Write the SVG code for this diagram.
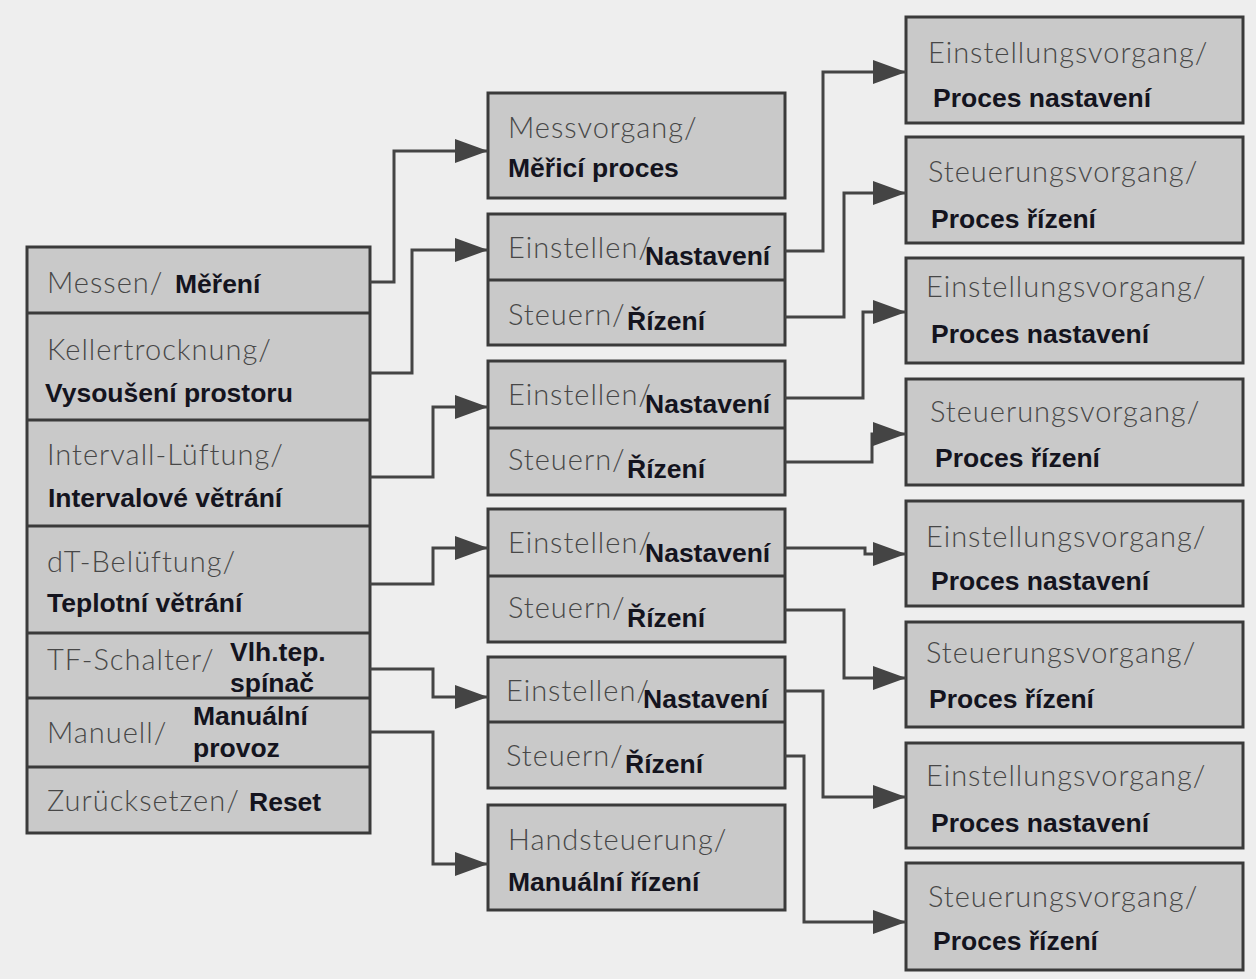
<svg xmlns="http://www.w3.org/2000/svg" width="1256" height="979" viewBox="0 0 1256 979">
<style>
.bg{fill:#eeeeee}
.box{fill:#c9c9c9;stroke:#3a3a3a;stroke-width:3}
.div{stroke:#3a3a3a;stroke-width:3}
.de{font-family:Lato,"Open Sans","DejaVu Sans",sans-serif;font-weight:300;font-size:29px;letter-spacing:1px;fill:#474747}
.cz{font-family:"Liberation Sans",Arial,sans-serif;font-weight:bold;font-size:26.5px;fill:#14141e}
.con{fill:none;stroke:#444444;stroke-width:3}
</style>
<defs>
<marker id="arr" markerUnits="userSpaceOnUse" markerWidth="34" markerHeight="24" refX="33" refY="12" orient="auto">
<path d="M0,0 L33,12 L0,24 Z" fill="#444444"/>
</marker>
</defs>
<rect class="bg" x="0" y="0" width="1256" height="979"/>

<g id="left-menu">
<rect class="box" x="27" y="247" width="343" height="586"/>
<line class="div" x1="27" y1="313" x2="370" y2="313"/>
<line class="div" x1="27" y1="420" x2="370" y2="420"/>
<line class="div" x1="27" y1="526" x2="370" y2="526"/>
<line class="div" x1="27" y1="633" x2="370" y2="633"/>
<line class="div" x1="27" y1="698" x2="370" y2="698"/>
<line class="div" x1="27" y1="767" x2="370" y2="767"/>
<text class="de" x="47" y="293">Messen/</text>
<text class="cz" x="175" y="293">Měření</text>
<text class="de" x="47" y="360">Kellertrocknung/</text>
<text class="cz" x="45" y="402">Vysoušení prostoru</text>
<text class="de" x="47" y="465">Intervall-Lüftung/</text>
<text class="cz" x="48" y="507">Intervalové větrání</text>
<text class="de" x="47" y="572">dT-Belüftung/</text>
<text class="cz" x="47" y="612">Teplotní větrání</text>
<text class="de" x="47" y="670">TF-Schalter/</text>
<text class="cz" x="230" y="661">Vlh.tep.</text>
<text class="cz" x="230" y="692">spínač</text>
<text class="de" x="47" y="743">Manuell/</text>
<text class="cz" x="193" y="725">Manuální</text>
<text class="cz" x="193" y="757">provoz</text>
<text class="de" x="47" y="811">Zurücksetzen/</text>
<text class="cz" x="249" y="811">Reset</text>
</g>

<g id="m-messvorgang">
<rect class="box" x="488" y="93" width="297" height="105"/>
<text class="de" x="508" y="138">Messvorgang/</text>
<text class="cz" x="508" y="177">Měřicí proces</text>
</g>
<g id="m-kellertrocknung">
<rect class="box" x="488" y="214" width="297" height="131"/>
<line class="div" x1="488" y1="280" x2="785" y2="280"/>
<text class="de" x="508" y="258">Einstellen/</text>
<text class="cz" x="645" y="265">Nastavení</text>
<text class="de" x="508" y="325">Steuern/</text>
<text class="cz" x="627" y="330">Řízení</text>
</g>
<g id="m-intervall">
<rect class="box" x="488" y="361" width="297" height="134"/>
<line class="div" x1="488" y1="428" x2="785" y2="428"/>
<text class="de" x="508" y="405">Einstellen/</text>
<text class="cz" x="645" y="413">Nastavení</text>
<text class="de" x="508" y="470">Steuern/</text>
<text class="cz" x="627" y="478">Řízení</text>
</g>
<g id="m-dt">
<rect class="box" x="488" y="509" width="297" height="133"/>
<line class="div" x1="488" y1="576" x2="785" y2="576"/>
<text class="de" x="508" y="553">Einstellen/</text>
<text class="cz" x="645" y="562">Nastavení</text>
<text class="de" x="508" y="618">Steuern/</text>
<text class="cz" x="627" y="627">Řízení</text>
</g>
<g id="m-tf">
<rect class="box" x="488" y="657" width="297" height="131"/>
<line class="div" x1="488" y1="722" x2="785" y2="722"/>
<text class="de" x="506" y="701">Einstellen/</text>
<text class="cz" x="643" y="708">Nastavení</text>
<text class="de" x="506" y="766">Steuern/</text>
<text class="cz" x="625" y="773">Řízení</text>
</g>
<g id="m-handsteuerung">
<rect class="box" x="488" y="805" width="297" height="105"/>
<text class="de" x="508" y="850">Handsteuerung/</text>
<text class="cz" x="508" y="891">Manuální řízení</text>
</g>

<g id="r1"><rect class="box" x="906" y="17" width="337" height="106"/><text class="de" x="928" y="63">Einstellungsvorgang/</text><text class="cz" x="933" y="107">Proces nastavení</text></g>
<g id="r2"><rect class="box" x="906" y="137" width="337" height="106"/><text class="de" x="928" y="182">Steuerungsvorgang/</text><text class="cz" x="931" y="228">Proces řízení</text></g>
<g id="r3"><rect class="box" x="906" y="258" width="337" height="105"/><text class="de" x="926" y="297">Einstellungsvorgang/</text><text class="cz" x="931" y="343">Proces nastavení</text></g>
<g id="r4"><rect class="box" x="906" y="379" width="337" height="106"/><text class="de" x="930" y="422">Steuerungsvorgang/</text><text class="cz" x="935" y="467">Proces řízení</text></g>
<g id="r5"><rect class="box" x="906" y="501" width="337" height="105"/><text class="de" x="926" y="547">Einstellungsvorgang/</text><text class="cz" x="931" y="590">Proces nastavení</text></g>
<g id="r6"><rect class="box" x="906" y="622" width="337" height="105"/><text class="de" x="926" y="663">Steuerungsvorgang/</text><text class="cz" x="929" y="708">Proces řízení</text></g>
<g id="r7"><rect class="box" x="906" y="743" width="337" height="105"/><text class="de" x="926" y="786">Einstellungsvorgang/</text><text class="cz" x="931" y="832">Proces nastavení</text></g>
<g id="r8"><rect class="box" x="906" y="863" width="337" height="107"/><text class="de" x="928" y="907">Steuerungsvorgang/</text><text class="cz" x="933" y="950">Proces řízení</text></g>

<g id="connectors">
<path class="con" marker-end="url(#arr)" d="M370,282 H394 V151 H488"/>
<path class="con" marker-end="url(#arr)" d="M370,373 H412 V250 H488"/>
<path class="con" marker-end="url(#arr)" d="M370,477 H433 V407 H488"/>
<path class="con" marker-end="url(#arr)" d="M370,584 H433 V548 H488"/>
<path class="con" marker-end="url(#arr)" d="M370,669 H433 V697 H488"/>
<path class="con" marker-end="url(#arr)" d="M370,732 H433 V864 H488"/>
<path class="con" marker-end="url(#arr)" d="M785,251 H823 V72 H906"/>
<path class="con" marker-end="url(#arr)" d="M785,317 H844 V193 H906"/>
<path class="con" marker-end="url(#arr)" d="M785,398 H863 V312 H906"/>
<path class="con" marker-end="url(#arr)" d="M785,462 H872 V434 H906"/>
<path class="con" marker-end="url(#arr)" d="M785,548 H865 V554 H906"/>
<path class="con" marker-end="url(#arr)" d="M785,610 H844 V678 H906"/>
<path class="con" marker-end="url(#arr)" d="M785,691 H823 V797 H906"/>
<path class="con" marker-end="url(#arr)" d="M785,756 H804 V922 H906"/>
</g>
</svg>
